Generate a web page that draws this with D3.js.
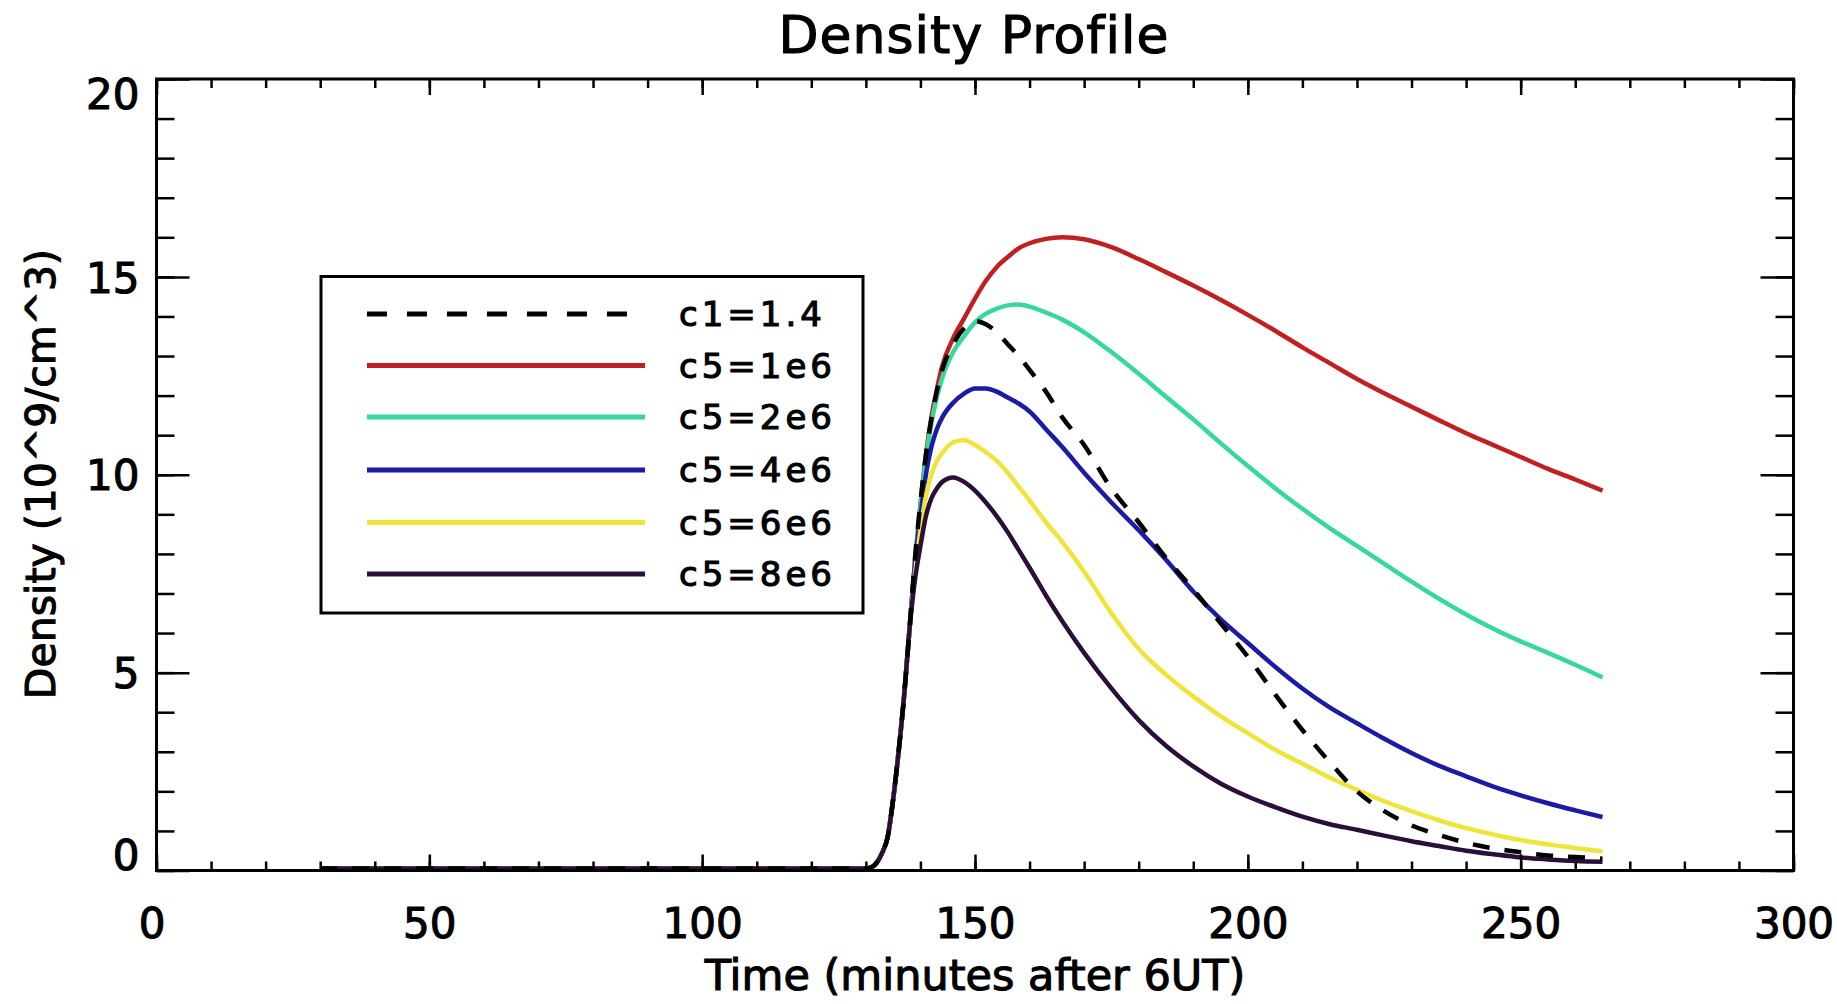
<!DOCTYPE html>
<html>
<head>
<meta charset="utf-8">
<script src="https://cdn.jsdelivr.net/npm/d3@7"></script>
<style>
  html, body { margin: 0; padding: 0; background: #ffffff; }
  svg { display: block; }
  text { font-family: "DejaVu Sans", "Liberation Sans", sans-serif; fill: #000; stroke: #000; stroke-width: 1.1px; }
</style>
</head>
<body>
<svg id="chart" width="1837" height="1004"></svg>
<script>
// ---------------- data ----------------
const time = [30, 60, 90, 120, 130, 131, 132, 133, 134, 135, 136, 137, 138,
  139, 140, 141, 142, 143, 144, 146, 148, 150, 152, 154, 156, 158, 160, 163, 166, 170,
  175, 180, 185, 190, 195, 200, 205, 210, 215, 220, 225, 230, 235, 240, 245, 250, 255, 260, 265];

const c1_1p4 = [0.05, 0.05, 0.05, 0.05, 0.05, 0.08, 0.2, 0.45, 0.85, 1.8, 3.0, 4.4, 6.1,
  7.9, 9.3, 10.5, 11.4, 12.1, 12.65, 13.3, 13.7, 13.88, 13.8, 13.6, 13.3, 13.0, 12.65, 12.1, 11.45, 10.75,
  9.65, 8.8, 7.9, 7.1, 6.25, 5.4, 4.45, 3.55, 2.74, 2.0, 1.5, 1.14, 0.9, 0.7, 0.56, 0.46, 0.38, 0.34, 0.3];

const c5_1e6 = [0.05, 0.05, 0.05, 0.05, 0.05, 0.08, 0.2, 0.45, 0.85, 1.8, 3.0, 4.4, 6.1,
  7.8, 9.25, 10.5, 11.45, 12.15, 12.75, 13.45, 13.95, 14.45, 14.9, 15.25, 15.5, 15.72, 15.85, 15.96, 16.0, 15.95,
  15.75, 15.45, 15.12, 14.78, 14.42, 14.04, 13.64, 13.22, 12.82, 12.42, 12.06, 11.72, 11.38, 11.05, 10.75, 10.45, 10.15, 9.88, 9.6];

const c5_2e6 = [0.05, 0.05, 0.05, 0.05, 0.05, 0.08, 0.2, 0.45, 0.85, 1.8, 3.0, 4.4, 6.1,
  7.8, 9.2, 10.4, 11.3, 11.95, 12.45, 13.1, 13.5, 13.85, 14.07, 14.2, 14.28, 14.3, 14.25, 14.1, 13.92, 13.6,
  13.1, 12.55, 11.97, 11.4, 10.8, 10.22, 9.66, 9.14, 8.65, 8.2, 7.75, 7.3, 6.87, 6.47, 6.11, 5.79, 5.5, 5.2, 4.88];

const c5_4e6 = [0.05, 0.05, 0.05, 0.05, 0.05, 0.08, 0.2, 0.45, 0.85, 1.8, 3.0, 4.4, 6.1,
  7.75, 8.95, 10.0, 10.7, 11.15, 11.45, 11.82, 12.05, 12.18, 12.18, 12.1, 11.95, 11.8, 11.6, 11.15, 10.7, 10.05,
  9.3, 8.6, 7.85, 7.05, 6.35, 5.75, 5.15, 4.6, 4.12, 3.72, 3.33, 2.97, 2.65, 2.38, 2.12, 1.9, 1.7, 1.52, 1.35];

const c5_6e6 = [0.05, 0.05, 0.05, 0.05, 0.05, 0.08, 0.2, 0.45, 0.85, 1.8, 3.0, 4.4, 6.1,
  7.5, 8.6, 9.45, 10.0, 10.35, 10.55, 10.82, 10.88, 10.75, 10.57, 10.35, 10.05, 9.7, 9.35, 8.8, 8.3, 7.55,
  6.5, 5.6, 4.95, 4.4, 3.9, 3.47, 3.05, 2.7, 2.35, 2.04, 1.75, 1.5, 1.27, 1.07, 0.91, 0.77, 0.66, 0.57, 0.48];

const c5_8e6 = [0.05, 0.05, 0.05, 0.05, 0.05, 0.08, 0.2, 0.45, 0.85, 1.8, 3.0, 4.4, 6.1,
  7.35, 8.2, 8.95, 9.4, 9.65, 9.82, 9.93, 9.82, 9.6, 9.3, 8.95, 8.55, 8.1, 7.65, 6.95, 6.3, 5.5,
  4.6, 3.8, 3.15, 2.63, 2.2, 1.87, 1.6, 1.36, 1.17, 1.03, 0.88, 0.74, 0.62, 0.5, 0.41, 0.33, 0.28, 0.24, 0.22];

const legendLabels = ["c1=1.4", "c5=1e6", "c5=2e6", "c5=4e6", "c5=6e6", "c5=8e6"];
const xMajorTicks = [0, 50, 100, 150, 200, 250, 300];
const yMajorTicks = [0, 5, 10, 15, 20];
const titleText = "Density Profile";
const xTitle = "Time (minutes after 6UT)";
const yTitle = "Density (10^9/cm^3)";

// ---------------- styles ----------------
const seriesStyle = [
  { color: "#000000", dash: "17,15" },
  { color: "#c21f1f", dash: null },
  { color: "#36d99a", dash: null },
  { color: "#1b1ba6", dash: null },
  { color: "#f0e43a", dash: null },
  { color: "#2c0f38", dash: null }
];
const seriesValues = [c1_1p4, c5_1e6, c5_2e6, c5_4e6, c5_6e6, c5_8e6];
const drawOrder = [1, 2, 3, 4, 5, 0];

// ---------------- layout ----------------
const L = 156.5, R = 1793.5, T = 79, B = 870.5;
const svg = d3.select("#chart");

const x = d3.scaleLinear().domain([0, 300]).range([L, R]);
const y = d3.scaleLinear().domain([0, 20]).range([B, T]);

const xMinor = d3.range(0, 301, 10);
const yMinor = d3.range(0, 21, 1);

svg.append("defs").append("clipPath").attr("id", "clip")
  .append("rect").attr("x", L).attr("y", T).attr("width", R - L).attr("height", B - T);

const line = d3.line()
  .x(d => x(d[0])).y(d => y(d[1]))
  .curve(d3.curveMonotoneX);

const gLines = svg.append("g").attr("clip-path", "url(#clip)");
drawOrder.forEach(i => {
  const pts = time.map((t, k) => [t, seriesValues[i][k]]);
  gLines.append("path")
    .attr("d", line(pts))
    .attr("fill", "none")
    .attr("stroke", seriesStyle[i].color)
    .attr("stroke-width", 4.5)
    .attr("stroke-linejoin", "round")
    .attr("stroke-dasharray", seriesStyle[i].dash);
});

function styleAxis(g) {
  g.select(".domain").remove();
  g.selectAll("line").attr("stroke", "#000").attr("stroke-width", 2.5);
}
const fmt = d3.format("d");

svg.append("g").attr("transform", `translate(0,${B})`)
  .call(d3.axisBottom(x).tickValues(xMinor).tickSize(-9).tickFormat(""))
  .call(styleAxis);
const gxb = svg.append("g").attr("transform", `translate(0,${B})`)
  .call(d3.axisBottom(x).tickValues(xMajorTicks).tickSize(-16).tickPadding(38).tickFormat(fmt))
  .call(styleAxis);
gxb.selectAll("text").attr("font-size", 42).attr("font-family", "DejaVu Sans").attr("fill", "#000");
gxb.selectAll("text").filter(d => d === 0).attr("dx", -5);

svg.append("g").attr("transform", `translate(0,${T})`)
  .call(d3.axisTop(x).tickValues(xMinor).tickSize(-9).tickFormat(""))
  .call(styleAxis);
svg.append("g").attr("transform", `translate(0,${T})`)
  .call(d3.axisTop(x).tickValues(xMajorTicks).tickSize(-16).tickFormat(""))
  .call(styleAxis);

svg.append("g").attr("transform", `translate(${L},0)`)
  .call(d3.axisLeft(y).tickValues(yMinor).tickSize(-18).tickFormat(""))
  .call(styleAxis);
const gyl = svg.append("g").attr("transform", `translate(${L},0)`)
  .call(d3.axisLeft(y).tickValues(yMajorTicks).tickSize(-33).tickPadding(17).tickFormat(fmt))
  .call(styleAxis);
gyl.selectAll("text").attr("font-size", 42).attr("font-family", "DejaVu Sans").attr("fill", "#000")
  .attr("dy", d => d === 0 ? "-0.02em" : (d === 20 ? "0.71em" : "0.36em"));

svg.append("g").attr("transform", `translate(${R},0)`)
  .call(d3.axisRight(y).tickValues(yMinor).tickSize(-18).tickFormat(""))
  .call(styleAxis);
svg.append("g").attr("transform", `translate(${R},0)`)
  .call(d3.axisRight(y).tickValues(yMajorTicks).tickSize(-33).tickFormat(""))
  .call(styleAxis);

svg.append("rect")
  .attr("x", L).attr("y", T).attr("width", R - L).attr("height", B - T)
  .attr("fill", "none").attr("stroke", "#000").attr("stroke-width", 3);

svg.append("text")
  .attr("x", (L + R) / 2 - 1).attr("y", 53)
  .attr("text-anchor", "middle")
  .attr("font-size", 52)
  .attr("letter-spacing", 1)
  .text(titleText);

svg.append("text")
  .attr("x", (L + R) / 2).attr("y", 990)
  .attr("text-anchor", "middle")
  .attr("font-size", 43)
  .text(xTitle);

svg.append("text")
  .attr("transform", `translate(55,474) rotate(-90)`)
  .attr("text-anchor", "middle")
  .attr("font-size", 41)
  .text(yTitle);

const legX0 = 321, legY0 = 276.5, legW = 542, legH = 336.5;
const legRowY = [314, 365.5, 417, 470, 522.5, 574];
const gLeg = svg.append("g");
gLeg.append("rect")
  .attr("x", legX0).attr("y", legY0).attr("width", legW).attr("height", legH)
  .attr("fill", "#fff").attr("stroke", "#000").attr("stroke-width", 3);

legendLabels.forEach((lab, i) => {
  gLeg.append("line")
    .attr("x1", 367).attr("x2", 645)
    .attr("y1", legRowY[i]).attr("y2", legRowY[i])
    .attr("stroke", seriesStyle[i].color)
    .attr("stroke-width", 5)
    .attr("stroke-dasharray", i === 0 ? "20,20" : null);
  gLeg.append("text")
    .attr("x", 679).attr("y", legRowY[i] + 12)
    .attr("font-size", 34)
    .attr("letter-spacing", 4)
    .text(lab);
});
</script>
</body>
</html>
